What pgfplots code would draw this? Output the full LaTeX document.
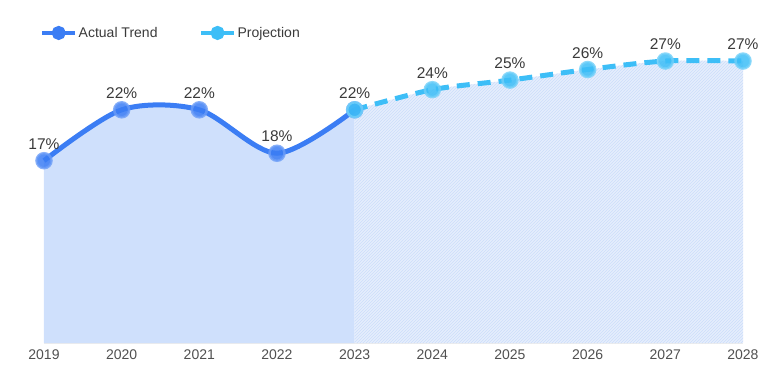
\documentclass[border=0pt]{standalone}
\usepackage{fontspec}
\setmainfont{Liberation Sans}
\usepackage{pgfplots}
\pgfplotsset{compat=1.18}
\usetikzlibrary{patterns}
\definecolor{actual}{HTML}{3B7DF4}
\definecolor{actualring}{HTML}{6A9CF7}
\definecolor{actualfill}{HTML}{CFE0FC}
\definecolor{proj}{HTML}{3DBEF7}
\definecolor{projring}{HTML}{6FCFF9}
\definecolor{projbg}{HTML}{E6EEFD}
\definecolor{projhatch}{HTML}{CCDDFA}
\definecolor{labelgray}{HTML}{3A3A3A}
\definecolor{tickgray}{HTML}{505050}
\begin{document}
\begin{tikzpicture}
\path[use as bounding box] (-44pt,-48pt) rectangle (737pt,343pt);
\begin{axis}[
  scale only axis, width=699pt, height=318pt,
  xmin=2019, xmax=2028, ymin=0, ymax=30,
  axis y line=none, axis x line*=bottom,
  x axis line style={draw=gray!15, line width=1pt},
  xtick={2019,...,2028}, major tick length=0pt,
  xticklabel style={font=\fontsize{14}{16}\selectfont, text=tickgray, yshift=-3pt},
  /pgf/number format/1000 sep={},
  /pgf/number format/assume math mode=true,
  clip=false,
  legend image code/.code={
    \draw[#1,mark repeat=2,mark phase=2] plot coordinates {(0pt,0pt)(16.5pt,0pt)(33pt,0pt)};
  },
  legend style={at={(rel axis cs:-0.0057,0.975)}, anchor=west, draw=none, fill=none,
    legend columns=2, inner sep=0pt,
    /tikz/every even column/.append style={column sep=40pt},
    font=\fontsize{14}{16}\selectfont, text=labelgray,
    nodes={inner sep=1.5pt}},
]
% fills
\addplot[draw=none, fill=actualfill, smooth, forget plot] coordinates {
 (2019,17.2) (2020,22.0) (2021,22.0) (2022,17.9) (2023,22.0)} \closedcycle;
\addplot[draw=none, fill=projbg, smooth, forget plot] coordinates {
 (2023,22.0) (2024,23.9) (2025,24.8) (2026,25.8) (2027,26.6) (2028,26.6)} \closedcycle;
\addplot[draw=none, pattern=north east lines, pattern color=projhatch, smooth, forget plot] coordinates {
 (2023,22.0) (2024,23.9) (2025,24.8) (2026,25.8) (2027,26.6) (2028,26.6)} \closedcycle;
% lines
\addplot[actual, line width=5pt, smooth, mark=*, mark size=7.5pt,
  mark options={fill=actual, fill opacity=0.85, draw=actualring, draw opacity=0.8, line width=2.5pt}, forget plot] coordinates {
 (2019,17.2) (2020,22.0) (2021,22.0) (2022,17.9) (2023,22.0)};
\addplot[proj, line width=5pt, smooth, dash pattern=on 13pt off 8pt, mark=*, mark size=7.5pt,
  mark options={solid, fill=proj, fill opacity=0.85, draw=projring, draw opacity=0.8, line width=2.5pt}, forget plot] coordinates {
 (2023,22.0) (2024,23.9) (2025,24.8) (2026,25.8) (2027,26.6) (2028,26.6)};
% labels
\addplot[draw=none, mark=none, point meta=y, forget plot,
  nodes near coords={\pgfmathprintnumber[fixed,precision=0]{\pgfplotspointmeta}\%},
  every node near coord/.style={font=\fontsize{15.5}{17}\selectfont, text=labelgray, anchor=south, inner sep=0pt, yshift=11pt}]
 coordinates {
 (2019,17.2) (2020,22.0) (2021,22.0) (2022,17.9) (2023,22.0)
 (2024,23.9) (2025,24.8) (2026,25.8) (2027,26.6) (2028,26.6)};
% legend
\addlegendimage{actual, line width=4pt, mark=*, mark size=5pt, mark options={fill=actual}}
\addlegendentry{Actual Trend}
\addlegendimage{proj, line width=4pt, mark=*, mark size=5pt, mark options={fill=proj}}
\addlegendentry{Projection}
\end{axis}
\end{tikzpicture}
\end{document}
